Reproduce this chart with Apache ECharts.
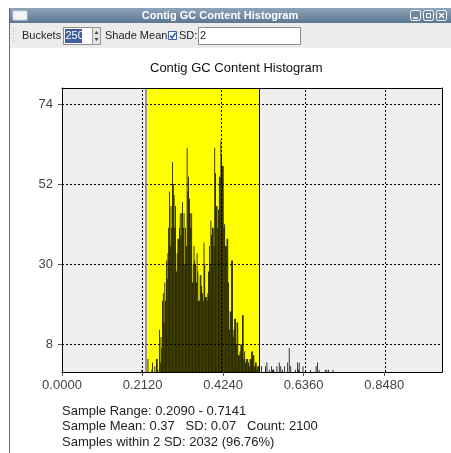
<!DOCTYPE html>
<html>
<head>
<meta charset="utf-8">
<script src="https://cdn.jsdelivr.net/npm/echarts/dist/echarts.min.js"></script>
<style>
  html, body { margin: 0; padding: 0; background: #ffffff; }
  #chart { width: 451px; height: 453px; }
</style>
</head>
<body>
<div id="chart"></div>
<script>
// ---- data ----
const sampleMin = 0.2090;
const sampleMax = 0.7141;
const bucketCount = 250;
const counts = [
  1,0,0,0,0,0,0,0,4,0,
  0,0,0,1,3,0,0,2,0,4,
  4,1,0,12,3,10,7,20,22,14,
  25,20,31,26,33,40,50,35,46,40,
  58,52,49,40,46,28,33,37,37,40,
  44,38,44,47,40,44,30,40,35,62,
  50,54,48,44,40,44,25,30,35,31,
  30,25,33,28,20,20,27,27,24,22,
  20,36,30,21,21,20,22,28,35,30,
  42,38,40,40,35,62,55,46,46,40,
  45,54,54,64,60,57,57,40,41,35,
  35,37,37,25,12,17,17,31,31,10,
  12,15,15,8,14,14,5,5,6,8,
  8,16,16,4,6,3,4,4,4,3,
  2,4,4,6,6,5,5,2,3,3,
  1,2,2,0,0,0,2,0,0,0,
  0,2,0,3,0,0,1,0,0,2,
  1,1,1,0,0,0,2,0,0,3,
  0,2,0,1,0,0,2,0,0,0,
  3,0,7,0,2,0,0,0,0,0,
  1,0,0,3,1,3,0,0,0,0,
  2,0,0,0,0,0,0,0,0,0,
  1,0,0,0,0,0,0,2,0,3,
  0,1,0,0,0,0,0,0,0,1,
  0,1,0,1,0,0,0,0,0,1
];
const xTicks = [0, 0.212, 0.424, 0.636, 0.848];
const yTicks = [8, 30, 52, 74];
const xRange = [0, 1];
const yRange = [0.4, 78.4];
const shadeRange = [0.2245, 0.5192];   // mean +/- 2 SD
const chartTitle = 'Contig GC Content Histogram';
const footerLines = [
  'Sample Range: 0.2090 - 0.7141',
  'Sample Mean: 0.37   SD: 0.07   Count: 2100',
  'Samples within 2 SD: 2032 (96.76%)'
];

// ---- build ----
const binW = (sampleMax - sampleMin) / bucketCount;
const barData = counts.map((c, i) => [sampleMin + (i + 0.5) * binW, c]);
const FONT = "'Liberation Sans', Arial, sans-serif";

const gridLines = [];
xTicks.slice(1).forEach(v => gridLines.push({ xAxis: v }));
yTicks.forEach(v => gridLines.push({ yAxis: v }));
const dashed = { color: '#000', width: 1, type: [2, 2] };

const chart = echarts.init(document.getElementById('chart'), null, { renderer: 'canvas' });

const graphic = [
  // window left border
  { type: 'rect', shape: { x: 9, y: 8, width: 1, height: 445 }, style: { fill: '#6e6e6e' }, z: 100 },
  // title bar
  { type: 'rect', shape: { x: 10, y: 8, width: 441, height: 15 },
    style: { fill: new echarts.graphic.LinearGradient(0, 0, 0, 1, [
      { offset: 0, color: '#8da4ba' }, { offset: 1, color: '#5c7792' }]) }, z: 100 },
  { type: 'rect', shape: { x: 13, y: 11, width: 14, height: 9 }, style: { fill: '#f2f4f6', stroke: '#c9d3dc', lineWidth: 1 }, z: 101 },
  { type: 'text', x: 220, y: 15.5, style: { text: 'Contig GC Content Histogram', fill: '#ffffff', font: 'bold 11px ' + FONT, align: 'center', verticalAlign: 'middle' }, z: 101 },
  { type: 'rect', shape: { x: 410.5, y: 10.5, width: 10, height: 10, r: 2 }, style: { fill: '#6f88a2', stroke: '#ffffff', lineWidth: 1 }, z: 101 },
  { type: 'line', shape: { x1: 413, y1: 18, x2: 418, y2: 18 }, style: { stroke: '#ffffff', lineWidth: 1.5 }, z: 102 },
  { type: 'rect', shape: { x: 423.5, y: 10.5, width: 10, height: 10, r: 2 }, style: { fill: '#6f88a2', stroke: '#ffffff', lineWidth: 1 }, z: 101 },
  { type: 'rect', shape: { x: 426.5, y: 13.5, width: 4, height: 4 }, style: { fill: 'none', stroke: '#ffffff', lineWidth: 1 }, z: 102 },
  { type: 'rect', shape: { x: 436.5, y: 10.5, width: 10, height: 10, r: 2 }, style: { fill: '#6f88a2', stroke: '#ffffff', lineWidth: 1 }, z: 101 },
  { type: 'line', shape: { x1: 439, y1: 13, x2: 444, y2: 18 }, style: { stroke: '#ffffff', lineWidth: 1.3 }, z: 102 },
  { type: 'line', shape: { x1: 444, y1: 13, x2: 439, y2: 18 }, style: { stroke: '#ffffff', lineWidth: 1.3 }, z: 102 },
  // toolbar
  { type: 'rect', shape: { x: 10, y: 23, width: 441, height: 25 }, style: { fill: '#ececec' }, z: 100 },
  { type: 'line', shape: { x1: 13.5, y1: 28, x2: 13.5, y2: 43 }, style: { stroke: '#b0b0b0', lineWidth: 1, lineDash: [1, 2] }, z: 101 },
  { type: 'text', x: 22, y: 36, style: { text: 'Buckets', fill: '#1e1e1e', font: '11px ' + FONT, verticalAlign: 'middle' }, z: 101 },
  { type: 'rect', shape: { x: 63.5, y: 27.5, width: 29, height: 17 }, style: { fill: '#ffffff', stroke: '#8c8c8c', lineWidth: 1 }, z: 101 },
  { type: 'rect', shape: { x: 65, y: 29, width: 17, height: 14 }, style: { fill: '#3f60a0' }, z: 102 },
  { type: 'text', x: 65.5, y: 36, style: { text: '250', fill: '#ffffff', font: '11px ' + FONT, verticalAlign: 'middle' }, z: 103 },
  { type: 'rect', shape: { x: 92.5, y: 27.5, width: 8, height: 17 }, style: { fill: '#e4e4e4', stroke: '#9a9a9a', lineWidth: 1 }, z: 101 },
  { type: 'polygon', shape: { points: [[94.5, 34], [98.5, 34], [96.5, 31]] }, style: { fill: '#444' }, z: 102 },
  { type: 'polygon', shape: { points: [[94.5, 38], [98.5, 38], [96.5, 41]] }, style: { fill: '#444' }, z: 102 },
  { type: 'text', x: 105, y: 36, style: { text: 'Shade Mean', fill: '#1e1e1e', font: '11px ' + FONT, verticalAlign: 'middle' }, z: 101 },
  { type: 'rect', shape: { x: 168.5, y: 31.5, width: 8, height: 8 }, style: { fill: '#ffffff', stroke: '#3f60a0', lineWidth: 1 }, z: 101 },
  { type: 'polyline', shape: { points: [[170, 35.5], [172, 38], [175.5, 33]] }, style: { stroke: '#2d55a8', lineWidth: 1.5, fill: 'none' }, z: 102 },
  { type: 'text', x: 179, y: 36, style: { text: 'SD:', fill: '#1e1e1e', font: '11px ' + FONT, verticalAlign: 'middle' }, z: 101 },
  { type: 'rect', shape: { x: 198.5, y: 27.5, width: 102, height: 17 }, style: { fill: '#ffffff', stroke: '#8c8c8c', lineWidth: 1 }, z: 101 },
  { type: 'text', x: 200, y: 36, style: { text: '2', fill: '#1e1e1e', font: '11px ' + FONT, verticalAlign: 'middle' }, z: 102 },
  // footer statistics
  ...footerLines.map((t, i) => ({
    type: 'text', x: 62, y: 411 + i * 15.5,
    style: { text: t, fill: '#222222', font: '13px ' + FONT, verticalAlign: 'middle' }, z: 100
  }))
];

const hiddenAxisParts = { axisTick: { show: false }, axisLabel: { show: false }, splitLine: { show: false } };

chart.setOption({
  animation: false,
  backgroundColor: '#ffffff',
  title: {
    text: chartTitle, left: 150, top: 62, padding: 0,
    textStyle: { fontFamily: FONT, fontSize: 13, fontWeight: 'normal', color: '#111' }
  },
  grid: { left: 62, top: 88, right: 9, bottom: 81, show: true, backgroundColor: '#efefef', borderWidth: 0 },
  xAxis: [
    {
      type: 'value', min: xRange[0], max: xRange[1], interval: 0.212, position: 'bottom', z: 10,
      axisLine: { show: true, onZero: false, lineStyle: { color: '#000', width: 1 } },
      axisTick: { show: true, length: 4, customValues: xTicks, lineStyle: { color: '#555' } },
      axisLabel: { customValues: xTicks, formatter: v => v.toFixed(4), fontSize: 13, color: '#444', margin: 7, fontFamily: FONT },
      splitLine: { show: false }
    },
    Object.assign({
      type: 'value', min: xRange[0], max: xRange[1], position: 'top', z: 10,
      axisLine: { show: true, onZero: false, lineStyle: { color: '#000', width: 1 } }
    }, hiddenAxisParts)
  ],
  yAxis: [
    {
      type: 'value', min: yRange[0], max: yRange[1], position: 'left', z: 10,
      axisLine: { show: true, onZero: false, lineStyle: { color: '#000', width: 1 } },
      axisTick: { show: true, length: 4, customValues: yTicks, lineStyle: { color: '#555' } },
      axisLabel: { customValues: yTicks, fontSize: 13, color: '#444', margin: 9, fontFamily: FONT },
      splitLine: { show: false }
    },
    Object.assign({
      type: 'value', min: yRange[0], max: yRange[1], position: 'right', z: 10,
      axisLine: { show: true, onZero: false, lineStyle: { color: '#000', width: 1 } }
    }, hiddenAxisParts)
  ],
  series: [
    {
      type: 'scatter', data: [], z: 1, silent: true,
      markArea: { silent: true, itemStyle: { color: '#ffff00' },
        data: [[{ xAxis: shadeRange[0] }, { xAxis: shadeRange[1] }]] }
    },
    {
      type: 'scatter', data: [], z: 2, silent: true,
      markLine: {
        silent: true, symbol: 'none', label: { show: false }, animation: false,
        lineStyle: dashed,
        data: gridLines.concat([
          { xAxis: shadeRange[0], lineStyle: { color: '#7d7d68', width: 1.5, type: 'solid' } },
          { xAxis: shadeRange[1], lineStyle: { color: '#000', width: 1, type: 'solid' } }
        ])
      }
    },
    {
      type: 'bar', data: barData, barWidth: 0.77, barMinWidth: 0.3, barMaxWidth: 0.77, z: 3, silent: true,
      itemStyle: { color: '#000000' }
    }
  ],
  graphic: graphic
});
</script>
</body>
</html>
